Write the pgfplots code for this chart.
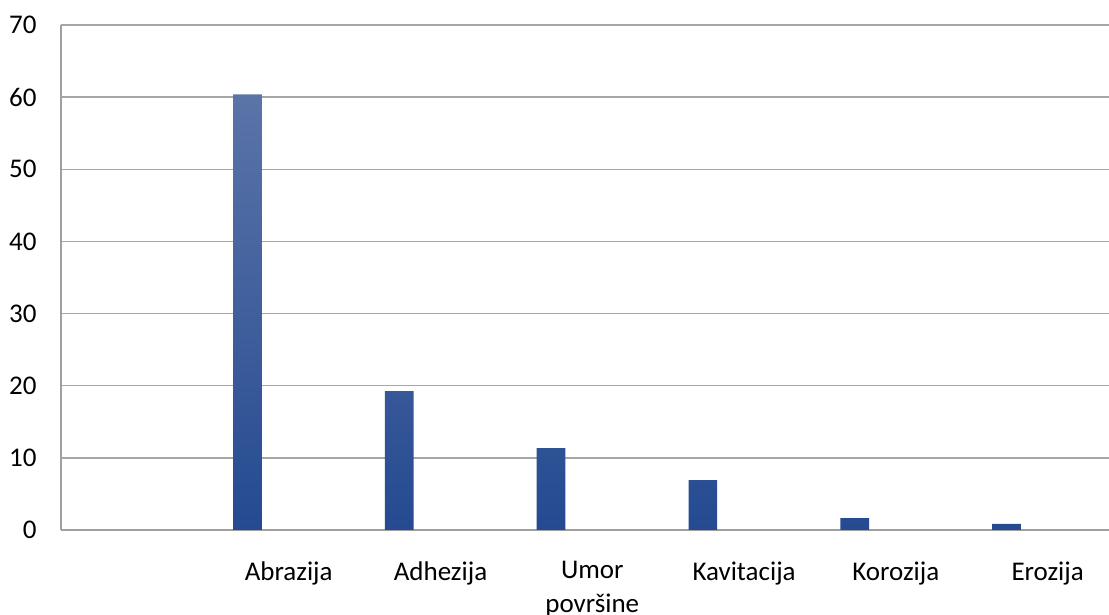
\documentclass[border=0pt]{standalone}
\usepackage{fontspec}
\setmainfont{Carlito}
\usepackage{pgfplots}
\pgfplotsset{compat=1.18}
\definecolor{gridgray}{HTML}{A6A6A6}
\definecolor{axgray}{HTML}{A0A0A0}
\definecolor{bartop}{HTML}{5B74A8}
\definecolor{barmid}{HTML}{3A5EA2}
\definecolor{barbot}{HTML}{254A91}
\begin{document}
\begin{tikzpicture}[x=1pt,y=1pt]
\useasboundingbox (0,0) rectangle (1109,615);
\begin{axis}[
  at={(61pt,85pt)}, anchor=south west,
  scale only axis,
  width=1048pt, height=505pt,
  xmin=-0.5, xmax=6.404,
  ymin=0, ymax=70,
  ytick={0,10,...,70},
  xtick={1,2,3,4,5,6},
  xticklabels={Abrazija,Adhezija,{Umor\\površine},Kavitacija,Korozija,Erozija},
  xticklabel style={align=center, font=\fontsize{27}{34}\selectfont, yshift=-28pt},
  yticklabel style={font=\fontsize{27}{32}\selectfont, xshift=-21pt},
  /pgf/number format/assume math mode=true,
  major tick length=0pt,
  axis x line*=bottom,
  axis y line*=left,
  axis line style={axgray, line width=1.3pt},
  ymajorgrids,
  major grid style={gridgray, line width=1.3pt},
  tick style={draw=none},
  ybar,
  bar width=28.7pt,
  bar shift=-41.2pt,
  axis on top=false,
]
\addplot[draw=none, top color=bartop, middle color=barmid, bottom color=barbot] coordinates {
  (1,60.4) (2,19.25) (3,11.35) (4,6.9) (5,1.65) (6,0.85)
};
\end{axis}
\end{tikzpicture}
\end{document}
